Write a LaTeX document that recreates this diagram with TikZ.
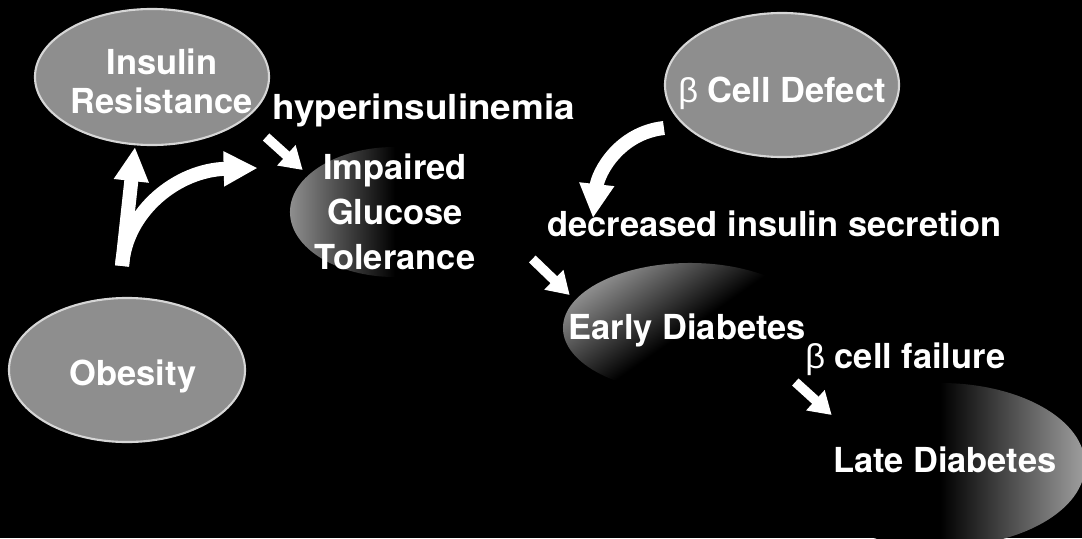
\documentclass[tikz,border=0pt]{standalone}
\usepackage{fontspec}
\setmainfont{TeX Gyre Heros}
\newfontfamily\greekfont{Liberation Sans}
\usepackage{tikz}
\usetikzlibrary{arrows.meta,positioning,calc,shapes.geometric}
\definecolor{Speckle}{HTML}{8E8E8E}
\definecolor{Rim}{HTML}{D6D6D6}
\newcommand{\bet}{{\greekfont\mdseries β}}

\begin{document}
\begin{tikzpicture}[x=0.025cm,y=-0.025cm,
  every node/.style={text=white,font=\fontsize{24.5}{28}\selectfont\bfseries},
  blob/.style={ellipse,inner sep=0pt,fill=Speckle,draw=Rim,line width=1.5pt},
  fade/.style={ellipse,inner sep=0pt},
  txt/.style={align=center,inner sep=0pt},
  tag/.style={anchor=base west,inner sep=0pt},
  bigarrow/.style={white,line width=0.35cm,-{Triangle[length=0.85cm,width=0.82cm]}},
  smallarrow/.style={white,line width=0.24cm,-{Triangle[length=0.55cm,width=0.65cm]}}]
  \fill[black] (0,0) rectangle (1082,538);
  \useasboundingbox (0,0) rectangle (1082,538);

  \node[fade,minimum width=5.25cm,minimum height=3.25cm,
        left color=Speckle,right color=black,middle color=black,
        label={[txt,font=\fontsize{24.5}{32}\selectfont\bfseries]center:Impaired\\Glucose\\Tolerance}] (igt) at (395,212) {};
  \node[fade,minimum width=6.35cm,minimum height=3.25cm,
        top color=Speckle,bottom color=black,middle color=black,shading angle=35,
        label={[txt,xshift=-0.07cm,yshift=-0.07cm]center:Early Diabetes}] (early) at (690,328) {};
  \node[fade,minimum width=7.25cm,minimum height=4.1cm,
        top color=Speckle!85,bottom color=black,middle color=black,shading angle=-90,
        label={[txt,xshift=0.12cm,yshift=0.12cm]center:Late Diabetes}] (late) at (940,465) {};

  \node[blob,minimum width=5.85cm,minimum height=3.4cm,
        label={[txt,xshift=0.25cm,yshift=-0.1cm,font=\fontsize{24.5}{27.7}\selectfont\bfseries]center:Insulin\\Resistance}] (insulin) at (152,77) {};
  \node[blob,minimum width=5.85cm,minimum height=3.6cm,
        label={[txt,yshift=-0.2cm]center:\bet{} Cell Defect}] (bcell) at (782,85) {};
  \node[blob,minimum width=5.9cm,minimum height=3.6cm,
        label={[txt,xshift=0.15cm,yshift=-0.15cm]center:Obesity}] (obesity) at (127,370) {};

  \node[tag] (hyper) at (272,120) {\scalebox{1.07}[1]{hyperinsulinemia}};
  \node[tag] (decr) at (547,236) {decreased insulin secretion};
  \node[tag] (bfail) at (805,368) {\bet{} cell failure};

  \coordinate (fork) at ($(obesity.north)+(-5,-31)$);
  \draw[bigarrow] (fork) -- ($(insulin.south)+(-17,1)$);
  \draw[bigarrow] (fork) .. controls +(4,-55) and +(-80,2) .. ($(igt.west)+(-32,-44)$);
  \draw[bigarrow] ($(bcell.west)+(0,43)$) .. controls +(-45,5) and +(5,-45) .. ($(decr.base west)+(46,-18)$);

  \draw[smallarrow] ($(insulin.east)+(-4,60)$) -- ($(igt.west)+(13,-42)$);
  \draw[smallarrow] ($(igt.east)+(32,47)$) -- ($(early.west)+(7,-33)$);
  \draw[smallarrow] ($(early.east)+(-22,54)$) -- ($(late.west)+(37,-50)$);
\end{tikzpicture}
\end{document}
